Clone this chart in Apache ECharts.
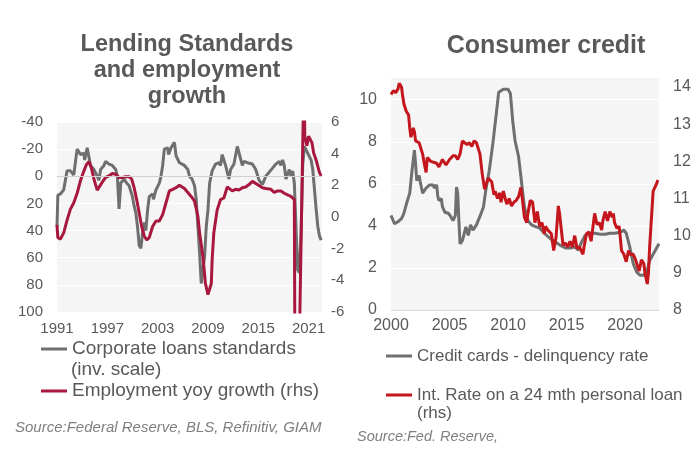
<!DOCTYPE html>
<html lang="en" style="height: 100%">
<head>
  <meta charset="utf-8">
</head>
<body style="height: 100%; margin: 0">
  <div id="container" style="width: 694px; height: 450px"></div>

  <script type="text/javascript" src="https://cdn.jsdelivr.net/npm/echarts@6/dist/echarts.min.js"></script>
  <script type="text/javascript">
// left panel: lending standards (inverted scale) and employment growth
var lendYears = [1991.0, 1991.1, 1991.4, 1991.8, 1992.2, 1992.6, 1993.0, 1993.4, 1993.8, 1994.2, 1994.3, 1994.6,
  1995.0, 1995.4, 1995.8, 1996.0, 1996.2, 1996.6, 1996.8, 1997.2, 1997.6, 1998.0, 1998.2, 1998.4, 1998.6,
  1999.0, 1999.3, 1999.6, 2000.0, 2000.2, 2000.4, 2000.6, 2000.8, 2001.0, 2001.2, 2001.4, 2001.6, 2001.8,
  2002.0, 2002.4, 2002.5, 2002.8, 2003.2, 2003.4, 2003.6, 2003.8, 2004.2, 2004.3, 2004.6, 2005.0, 2005.2,
  2005.6, 2005.8, 2006.2, 2006.6, 2006.8, 2007.1, 2007.4, 2007.6, 2007.8, 2008.0, 2008.2, 2008.4, 2008.6,
  2008.8, 2009.0, 2009.2, 2009.5, 2009.9, 2010.3, 2010.5, 2010.7, 2010.9, 2011.1, 2011.5, 2011.7, 2012.1,
  2012.3, 2012.5, 2012.8, 2013.1, 2013.3, 2013.7, 2013.9, 2014.3, 2014.7, 2015.1, 2015.5, 2015.9, 2016.7,
  2017.1, 2017.5, 2017.7, 2017.9, 2018.1, 2018.3, 2018.7, 2018.9, 2019.1, 2019.3, 2019.5, 2019.7, 2019.9,
  2020.1, 2020.3, 2020.5, 2020.9, 2021.3, 2021.5, 2021.9, 2022.1, 2022.3, 2022.5];
var lendStd = [37, 14, 13, 10, -4, -4, -1, -20, -16, -17, -12, -21,
  -8, -5, 0, 3, -5, -8, -11, -9, -8, -5, 0, 24, 5,
  2, 5, 7, 15, 22, 27, 37, 51, 53, 42, 34, 40, 25,
  15, 13, 17, 10, 5, 0, -8, -20, -21, -16, -21, -25, -15,
  -10, -11, -8, -5, 0, 2, 7, 17, 37, 56, 79, 79, 59,
  37, 25, 5, -4, -9, -10, -8, -16, -15, -8, 2, -5, -9,
  -10, -22, -15, -8, -11, -10, -11, -9, -5, 3, 6, 0, -6,
  -9, -11, -8, -12, -8, 2, -5, 0, -4, 5, 37, 69, 71,
  42, -8, -22, -17, -12, -5, 24, 37, 44, 47];

var empYears = [1991.0, 1991.1, 1991.4, 1991.8, 1992.2, 1992.6, 1993.0, 1993.4, 1993.8, 1994.2, 1994.5, 1994.8,
  1995.1, 1995.4, 1995.8, 1996.0, 1996.4, 1996.8, 1997.2, 1997.6, 1998.0, 1998.4, 1998.8, 1999.2, 1999.6,
  1999.9, 2000.2, 2000.5, 2000.8, 2001.1, 2001.4, 2001.7, 2002.0, 2002.4, 2002.8, 2003.2, 2003.6, 2004.0,
  2004.4, 2004.8, 2005.2, 2005.6, 2005.8, 2006.2, 2006.6, 2007.0, 2007.4, 2007.8, 2008.0, 2008.4, 2008.7,
  2009.0, 2009.2, 2009.4, 2009.5, 2009.7, 2010.1, 2010.5, 2010.9, 2011.3, 2011.5, 2011.9, 2012.3, 2012.7,
  2013.1, 2013.5, 2013.9, 2014.3, 2014.5, 2014.9, 2015.5, 2015.9, 2016.5, 2016.9, 2017.3, 2017.7, 2018.1,
  2018.5, 2018.9, 2019.1, 2019.3, 2019.4, 2019.6, 2019.9, 2020.35, 2020.45, 2020.55, 2020.8, 2021.0, 2021.2,
  2021.4, 2021.6, 2021.9, 2022.1, 2022.3, 2022.5];
var empGrowth = [-0.5, -1.3, -1.4, -1.0, -0.2, 0.5, 0.9, 1.5, 2.3, 2.9, 3.3, 3.5,
  3.1, 2.4, 1.7, 1.8, 2.2, 2.5, 2.6, 2.75, 2.7, 2.5, 2.5, 2.55, 2.55,
  2.4, 1.85, 1.1, 0.25, -0.6, -1.2, -1.45, -1.3, -0.6, -0.25, -0.25, 0.15, 0.9,
  1.65, 1.75, 1.85, 2.0, 2.05, 1.8, 1.55, 1.3, 1.0, 0.05, -1.0, -2.5, -4.2,
  -4.9, -4.9, -4.2, -2.7, -1.0, 0.45, 1.1, 1.2, 1.9, 1.85, 1.65, 1.75, 1.7,
  1.85, 1.9, 2.05, 2.25, 2.2, 2.05, 1.85, 1.8, 1.75, 1.55, 1.65, 1.65, 1.5,
  1.4, 1.3, 1.3, 1.1, -13, -12, -8, 6, 9, 5.1, 4.5, 5.1, 5.0,
  4.7, 4.05, 3.6, 3.2, 2.8, 2.6];

// right panel: consumer credit
var ccYears = [2000.0, 2000.3, 2000.6, 2000.9, 2001.1, 2001.4, 2001.6, 2001.8, 2002.0, 2002.1, 2002.2, 2002.4,
  2002.5, 2002.7, 2003.0, 2003.3, 2003.6, 2003.7, 2003.9, 2004.0, 2004.1, 2004.3, 2004.4, 2004.6, 2004.9,
  2005.1, 2005.3, 2005.5, 2005.6, 2005.7, 2005.8, 2005.9, 2006.1, 2006.4, 2006.6, 2006.8, 2007.0, 2007.3,
  2007.6, 2007.9, 2008.1, 2008.4, 2008.7, 2009.0, 2009.2, 2009.6, 2010.0, 2010.2, 2010.4, 2010.6, 2010.9,
  2011.1, 2011.2, 2011.4, 2011.7, 2012.0, 2012.4, 2012.7, 2013.1, 2013.6, 2014.0, 2014.4, 2014.9, 2015.3,
  2015.7, 2016.0, 2016.3, 2016.6, 2017.0, 2017.4, 2017.9, 2018.3, 2018.7, 2019.1, 2019.6, 2019.9, 2020.1,
  2020.4, 2020.7, 2021.0, 2021.3, 2021.6, 2021.9, 2022.1, 2022.6, 2022.9];
var ccDelinq = [4.5, 4.1, 4.2, 4.35, 4.6, 5.2, 5.55, 6.65, 7.6, 6.95, 6.15, 6.4,
  6.1, 5.55, 5.8, 5.95, 5.95, 5.8, 5.95, 5.4, 5.2, 5.3, 4.9, 4.65, 4.6,
  4.45, 4.25, 4.5, 5.85, 5.55, 4.25, 3.15, 3.3, 3.95, 3.55, 4.05, 3.8, 4.05,
  4.45, 4.9, 5.7, 6.65, 7.9, 9.35, 10.35, 10.5, 10.5, 10.3, 9.0, 8.05, 7.3,
  6.35, 5.85, 4.9, 4.25, 4.05, 3.95, 3.9, 3.65, 3.4, 3.25, 3.1, 2.95, 2.95,
  3.0, 2.85, 3.25, 3.55, 3.65, 3.65, 3.6, 3.6, 3.65, 3.65, 3.7, 3.8, 3.65,
  3.0, 2.2, 1.8, 1.65, 1.65, 1.9, 2.35, 2.85, 3.15];

var loanYears = [2000.0, 2000.2, 2000.4, 2000.6, 2000.7, 2000.9, 2001.0, 2001.1, 2001.3, 2001.5, 2001.6, 2001.7,
  2001.9, 2002.0, 2002.1, 2002.4, 2002.7, 2002.9, 2003.0, 2003.1, 2003.4, 2003.9, 2004.1, 2004.4, 2004.7,
  2005.0, 2005.3, 2005.5, 2005.7, 2005.9, 2006.1, 2006.3, 2006.5, 2006.7, 2006.9, 2007.1, 2007.3, 2007.6,
  2007.8, 2008.0, 2008.1, 2008.3, 2008.6, 2008.8, 2008.9, 2009.1, 2009.3, 2009.4, 2009.6, 2009.8, 2009.9,
  2010.1, 2010.3, 2010.5, 2010.7, 2010.9, 2011.1, 2011.2, 2011.4, 2011.6, 2011.7, 2011.9, 2012.1, 2012.3,
  2012.5, 2012.7, 2012.9, 2013.1, 2013.2, 2013.4, 2013.7, 2013.9, 2014.1, 2014.3, 2014.4, 2014.7, 2014.9,
  2015.1, 2015.3, 2015.5, 2015.7, 2015.9, 2016.1, 2016.4, 2016.5, 2016.7, 2016.9, 2017.1, 2017.3, 2017.4,
  2017.6, 2017.8, 2018.0, 2018.1, 2018.3, 2018.5, 2018.7, 2018.9, 2019.0, 2019.1, 2019.3, 2019.5, 2019.7,
  2019.9, 2020.1, 2020.3, 2020.4, 2020.7, 2020.9, 2021.1, 2021.2, 2021.4, 2021.6, 2021.7, 2021.9, 2022.0,
  2022.1, 2022.3, 2022.4, 2022.7, 2022.8];
var loanRate = [13.8, 13.9, 13.85, 13.95, 14.1, 14.0, 13.75, 13.55, 13.35, 13.25, 12.9, 12.65,
  12.9, 12.8, 12.55, 12.5, 12.2, 11.85, 11.7, 12.1, 12.0, 11.95, 11.85, 12.05, 11.9,
  12.05, 12.15, 12.15, 12.05, 12.2, 12.55, 12.5, 12.45, 12.5, 12.4, 12.55, 12.5, 12.2,
  11.65, 11.25, 11.2, 11.55, 11.45, 11.1, 11.2, 11.0, 11.15, 10.9, 11.2, 10.95, 10.85,
  11.0, 10.8, 10.9, 10.95, 11.05, 11.3, 11.05, 10.5, 10.35, 10.6, 10.95, 10.9, 10.35,
  10.65, 10.25, 10.35, 10.05, 10.25, 10.15, 10.05, 9.6, 9.95, 10.8, 10.6, 9.75, 9.8,
  9.7, 9.85, 9.7, 10.0, 9.65, 9.7, 9.5, 9.7, 10.05, 10.1, 9.85, 10.35, 10.6,
  10.3, 10.35, 10.15, 10.4, 10.65, 10.4, 10.65, 10.5, 10.6, 10.35, 10.2, 10.25, 9.6,
  9.5, 9.3, 9.6, 9.5, 9.5, 9.35, 9.15, 9.05, 9.35, 9.25, 9.0, 8.7, 9.0,
  9.7, 10.7, 11.2, 11.4, 11.5];

function pairs(xs, ys) {
  return xs.map(function (x, i) { return [x, ys[i]]; });
}

var textColor = '#595959';
var plotBg = '#f5f5f5';

var dom = document.getElementById('container');
var myChart = echarts.init(dom, null, { renderer: 'canvas' });

var option = {
  animation: false,
  title: [
    {
      text: 'Lending Standards\nand employment\ngrowth',
      left: 187, top: 32, padding: 0, textAlign: 'center',
      textStyle: { fontFamily: 'Liberation Sans', fontSize: 23.5, fontWeight: 'bold', color: textColor, lineHeight: 26 }
    },
    {
      text: 'Consumer credit',
      left: 546, top: 33, padding: 0, textAlign: 'center',
      textStyle: { fontFamily: 'Liberation Sans', fontSize: 25, fontWeight: 'bold', color: textColor, lineHeight: 26 }
    }
  ],
  legend: [
    {
      data: ['Corporate loans standards (inv. scale)'],
      left: 41, top: 339, padding: 0, itemWidth: 26, itemHeight: 3, icon: 'rect',
      formatter: function () { return 'Corporate loans standards'; },
      textStyle: { fontFamily: 'Liberation Sans', fontSize: 19, lineHeight: 20, color: textColor }
    },
    {
      data: ['Employment yoy growth (rhs)'],
      left: 41, top: 381, padding: 0, itemWidth: 26, itemHeight: 3, icon: 'rect',
      textStyle: { fontFamily: 'Liberation Sans', fontSize: 19, lineHeight: 20, color: textColor }
    },
    {
      data: ['Credit cards - delinquency rate'],
      left: 386, top: 346, padding: 0, itemWidth: 26, itemHeight: 3, icon: 'rect',
      textStyle: { fontFamily: 'Liberation Sans', fontSize: 17, lineHeight: 20, color: textColor }
    },
    {
      data: ['Int. Rate on a 24 mth personal loan (rhs)'],
      left: 386, top: 385, padding: 0, itemWidth: 26, itemHeight: 3, icon: 'rect',
      formatter: function () { return 'Int. Rate on a 24 mth personal loan'; },
      textStyle: { fontFamily: 'Liberation Sans', fontSize: 17, lineHeight: 20, color: textColor }
    }
  ],
  graphic: [
    { type: 'text', left: 71, top: 360, style: { text: '(inv. scale)', font: '19px "Liberation Sans"', fill: textColor } },
    { type: 'text', left: 417, top: 405, style: { text: '(rhs)', font: '17px "Liberation Sans"', fill: textColor } },
    { type: 'text', left: 15, top: 420, style: { text: 'Source:Federal Reserve, BLS, Refinitiv, GIAM', font: 'italic 15px "Liberation Sans"', fill: '#7f7f7f' } },
    { type: 'text', left: 357, top: 429, style: { text: 'Source:Fed. Reserve,', font: 'italic 14.5px "Liberation Sans"', fill: '#7f7f7f' } }
  ],
  grid: [
    { left: 57, top: 122, width: 265, height: 190, show: true, backgroundColor: plotBg, borderWidth: 0 },
    { left: 391, top: 77, width: 268, height: 233, show: true, backgroundColor: plotBg, borderWidth: 0 }
  ],
  xAxis: [
    {
      type: 'value', gridIndex: 0, min: 1991, max: 2022.6, interval: 6,
      axisLine: { show: false }, axisTick: { show: false }, splitLine: { show: false },
      axisLabel: {
        showMaxLabel: false, margin: 9, color: textColor, fontSize: 15, fontFamily: 'Liberation Sans',
        formatter: function (v) { return String(v); }
      }
    },
    {
      type: 'value', gridIndex: 1, min: 2000, max: 2022.9, interval: 5,
      axisLine: { show: true, lineStyle: { color: '#d9d9d9', width: 1 } },
      axisTick: { show: false }, splitLine: { show: false },
      axisLabel: {
        showMaxLabel: false, margin: 8, color: textColor, fontSize: 16, fontFamily: 'Liberation Sans',
        formatter: function (v) { return String(v); }
      }
    }
  ],
  yAxis: [
    {
      type: 'value', gridIndex: 0, min: -40, max: 100, interval: 20, inverse: true,
      axisLine: { show: false }, axisTick: { show: false },
      splitLine: { show: true, lineStyle: { color: '#ffffff', width: 1 } },
      axisLabel: { margin: 14, color: textColor, fontSize: 15, fontFamily: 'Liberation Sans' }
    },
    {
      type: 'value', gridIndex: 0, position: 'right', min: -6, max: 6, interval: 2,
      axisLine: { show: false }, axisTick: { show: false }, splitLine: { show: false },
      axisLabel: { margin: 9, color: textColor, fontSize: 15, fontFamily: 'Liberation Sans' }
    },
    {
      type: 'value', gridIndex: 1, min: 0, max: 11.08, interval: 2,
      axisLine: { show: false }, axisTick: { show: false },
      splitLine: { show: true, lineStyle: { color: '#ffffff', width: 1 } },
      axisLabel: { showMaxLabel: false, margin: 14, color: textColor, fontSize: 16, fontFamily: 'Liberation Sans' }
    },
    {
      type: 'value', gridIndex: 1, position: 'right', min: 8, max: 14.27, interval: 1,
      axisLine: { show: false }, axisTick: { show: false }, splitLine: { show: false },
      axisLabel: { showMaxLabel: false, margin: 14, color: textColor, fontSize: 16, fontFamily: 'Liberation Sans' }
    }
  ],
  series: [
    {
      name: 'Corporate loans standards (inv. scale)', type: 'line', xAxisIndex: 0, yAxisIndex: 0,
      data: pairs(lendYears, lendStd), showSymbol: false, color: '#6f6f6f',
      lineStyle: { width: 3, color: '#6f6f6f' },
      markLine: {
        silent: true, symbol: 'none', label: { show: false },
        lineStyle: { color: '#d0d0d0', type: 'solid', width: 1 },
        data: [{ yAxis: 0 }]
      }
    },
    {
      name: 'Employment yoy growth (rhs)', type: 'line', xAxisIndex: 0, yAxisIndex: 1,
      data: pairs(empYears, empGrowth), showSymbol: false, color: '#a8173d',
      lineStyle: { width: 3, color: '#a8173d' }
    },
    {
      name: 'Credit cards - delinquency rate', type: 'line', xAxisIndex: 1, yAxisIndex: 2,
      data: pairs(ccYears, ccDelinq), showSymbol: false, color: '#6f6f6f',
      lineStyle: { width: 3, color: '#6f6f6f' }
    },
    {
      name: 'Int. Rate on a 24 mth personal loan (rhs)', type: 'line', xAxisIndex: 1, yAxisIndex: 3,
      data: pairs(loanYears, loanRate), showSymbol: false, color: '#c4161c',
      lineStyle: { width: 3, color: '#c4161c' }
    }
  ]
};

myChart.setOption(option);
window.addEventListener('resize', myChart.resize);
  </script>
</body>
</html>
